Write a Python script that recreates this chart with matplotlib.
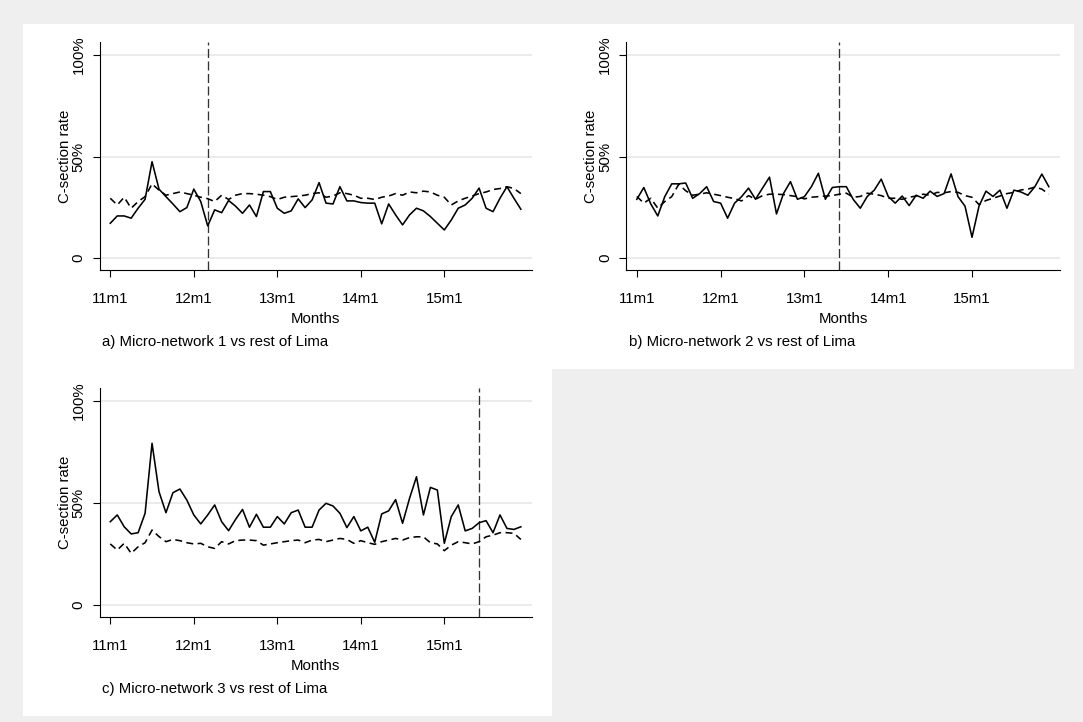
import matplotlib
matplotlib.use("Agg")
import matplotlib.pyplot as plt
from matplotlib.patches import Rectangle
import numpy as np

plt.rcParams['font.family'] = ['Liberation Sans', 'DejaVu Sans']
plt.rcParams['lines.scale_dashes'] = False

# months 11m1 .. 15m12 (index 0..59)
months = np.arange(60)
tick_pos = [0, 12, 24, 36, 48]
tick_labels = ["11m1", "12m1", "13m1", "14m1", "15m1"]

# C-section rates (%)
mn1 = [17.2, 20.8, 20.8, 19.7, 24.6, 29.0, 47.5, 34.0, 30.3, 26.7,
       22.9, 24.9, 34.0, 27.9, 15.9, 23.8, 22.4, 28.4, 25.6, 22.1,
       26.2, 20.5, 32.8, 32.8, 24.6, 22.1, 23.3, 29.2, 24.9, 28.7,
       37.2, 27.1, 26.7, 35.2, 28.2, 28.2, 27.4, 27.1, 27.1, 16.9,
       26.7, 21.3, 16.4, 21.3, 24.6, 23.3, 20.5, 17.2, 13.9, 18.8,
       24.6, 26.2, 29.5, 34.5, 24.6, 22.9, 29.5, 35.2, 29.5, 24.1]
rest1 = [29.5, 26.2, 30.0, 24.6, 27.9, 30.3, 36.6, 33.5, 31.0, 31.8,
         32.6, 31.8, 31.0, 30.0, 29.3, 27.9, 31.0, 28.9, 31.0, 31.8,
         31.8, 31.5, 31.0, 30.3, 28.9, 30.0, 30.3, 30.6, 31.0, 31.8,
         32.2, 30.0, 30.6, 32.2, 31.8, 31.0, 29.5, 29.5, 28.9, 30.0,
         30.6, 31.8, 31.0, 32.6, 32.2, 33.0, 32.6, 31.0, 30.0, 26.2,
         28.2, 29.5, 30.6, 31.8, 32.6, 33.8, 34.3, 35.2, 34.3, 31.8]

mn2 = [29.0, 34.8, 26.7, 20.8, 30.3, 36.6, 36.6, 37.0, 29.5, 31.8,
       35.2, 27.9, 27.1, 19.7, 27.1, 30.3, 34.5, 29.0, 34.5, 39.9,
       21.8, 31.8, 37.7, 29.0, 30.3, 35.2, 41.8, 29.0, 34.8, 35.2,
       35.2, 28.9, 24.6, 30.4, 33.5, 38.9, 30.4, 27.1, 30.6, 25.9,
       31.0, 29.5, 33.0, 30.4, 31.8, 41.5, 30.3, 25.6, 10.3, 25.6,
       33.0, 30.4, 33.5, 24.6, 33.5, 32.6, 31.0, 35.2, 41.4, 35.2]
rest2 = [30.4, 27.1, 29.5, 24.6, 27.9, 30.3, 36.4, 33.2, 31.0, 31.5,
         32.2, 31.5, 30.8, 30.0, 29.3, 28.2, 30.8, 29.0, 30.8, 31.5,
         31.5, 31.3, 30.8, 30.3, 29.2, 30.0, 30.3, 30.6, 30.8, 31.5,
         32.0, 30.0, 30.4, 32.0, 31.5, 30.8, 29.5, 29.5, 29.0, 30.0,
         30.6, 31.5, 31.0, 32.4, 32.2, 32.8, 32.4, 30.8, 30.0, 26.4,
         28.4, 29.5, 30.6, 31.8, 32.4, 33.6, 34.0, 35.0, 34.0, 31.5]

mn3 = [40.7, 44.0, 38.2, 34.7, 35.3, 44.8, 79.1, 55.4, 45.1, 54.9,
       56.7, 51.3, 44.0, 39.6, 44.0, 48.9, 40.7, 36.3, 41.8, 46.7,
       38.0, 44.3, 38.0, 38.0, 43.2, 39.6, 45.1, 46.4, 38.0, 38.0,
       46.4, 49.7, 48.4, 44.8, 37.8, 43.2, 36.2, 38.0, 30.6, 44.5,
       46.0, 51.5, 39.9, 52.1, 62.7, 44.0, 57.5, 56.2, 30.1, 43.2,
       48.9, 36.2, 37.4, 40.2, 41.2, 35.3, 44.0, 37.4, 36.9, 38.2]
rest3 = [29.8, 26.8, 30.1, 25.2, 28.4, 30.4, 36.6, 33.4, 30.9, 32.0,
         31.4, 30.4, 29.8, 30.1, 28.4, 27.6, 30.9, 29.8, 31.4, 31.7,
         31.7, 31.4, 29.2, 29.8, 30.4, 30.9, 31.4, 31.7, 30.4, 31.7,
         32.0, 30.9, 31.7, 32.5, 32.0, 30.1, 31.4, 30.4, 29.6, 30.9,
         31.7, 32.5, 31.7, 32.9, 33.3, 33.3, 30.4, 29.8, 26.5, 29.2,
         30.9, 30.4, 29.8, 30.9, 33.3, 34.1, 35.3, 35.3, 35.0, 32.0]

# month index of the intervention line in each panel
starts = [14, 29, 53]
titles = ["a) Micro-network 1 vs rest of Lima",
          "b) Micro-network 2 vs rest of Lima",
          "c) Micro-network 3 vs rest of Lima"]

W, H = 1083, 722
fig = plt.figure(figsize=(W / 100, H / 100), dpi=100)
fig.patch.set_facecolor("#efefef")

# white panel backgrounds (x0, y0, x1, y1 in pixels from top-left)
for x0, y0, x1, y1 in [(23, 24, 552, 369), (552, 24, 1074, 369), (23, 369, 552, 716)]:
    fig.patches.append(Rectangle((x0 / W, 1 - y1 / H), (x1 - x0) / W, (y1 - y0) / H,
                                 transform=fig.transFigure, facecolor="white",
                                 edgecolor="none", zorder=-5))

FS = 10.8
boxes = [(99.5, 42, 532, 270), (626, 42, 1060, 270), (99.5, 388, 532, 617)]
ylims = [(-5.8, 106.4), (-5.8, 106.4), (-6.0, 106.2)]
series = [(mn1, rest1), (mn2, rest2), (mn3, rest3)]

for k in range(3):
    x0, y0, x1, y1 = boxes[k]
    ax = fig.add_axes([x0 / W, 1 - y1 / H, (x1 - x0) / W, (y1 - y0) / H])
    ax.set_facecolor("white")
    mn, rest = series[k]
    for g in [0, 50, 100]:
        ax.axhline(g, color="#e6e6e6", lw=1.1, zorder=1)
    ax.plot(months, mn, color="black", lw=1.15, zorder=3)
    ax.plot(months, rest, color="black", lw=1.15, dashes=(5, 3.2), zorder=3)
    ax.axvline(starts[k], color="#333333", lw=0.95, dashes=(6.5, 2.5), zorder=2)

    ax.set_xlim(-1.55, 60.6)
    ax.set_ylim(*ylims[k])
    ax.set_xticks(tick_pos)
    ax.set_xticklabels(tick_labels, fontsize=FS)
    ax.set_yticks([0, 50, 100])
    ax.set_yticklabels(["0", "50%", "100%"], fontsize=FS, rotation=90, va="center")
    ax.tick_params(axis="both", direction="out", length=5, width=0.8, color="black")
    ax.tick_params(axis="x", pad=11)
    ax.tick_params(axis="y", pad=5)
    for s in ["top", "right"]:
        ax.spines[s].set_visible(False)
    for s in ["left", "bottom"]:
        ax.spines[s].set_linewidth(0.8)
    ax.set_xlabel("Months", fontsize=FS, labelpad=4)
    ax.set_ylabel("C-section rate", fontsize=FS, labelpad=0)
    fig.text((x0 + 3) / W, 1 - (y1 + 72) / H, titles[k], fontsize=FS,
             ha="left", va="center")

fig.savefig("out.png", dpi=100, facecolor=fig.get_facecolor())
